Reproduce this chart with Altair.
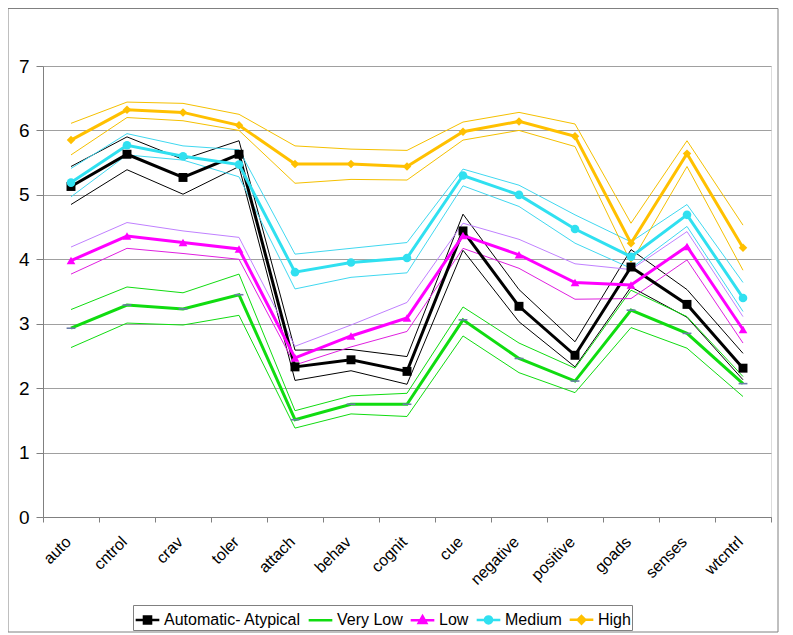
import altair as alt
import pandas as pd

cats = ["auto", "cntrol", "crav", "toler", "attach", "behav", "cognit",
        "cue", "negative", "positive", "goads", "senses", "wtcntrl"]
series_names = ["Automatic- Atypical", "Very Low", "Low", "Medium", "High"]

auto_mean = [5.13, 5.63, 5.27, 5.63, 2.33, 2.44, 2.26, 4.44, 3.27, 2.51, 3.88, 3.30, 2.31]
auto_hi = [5.44, 5.90, 5.55, 5.84, 2.59, 2.60, 2.49, 4.70, 3.53, 2.72, 4.15, 3.53, 2.54]
auto_lo = [4.85, 5.39, 5.01, 5.44, 2.12, 2.27, 2.06, 4.14, 3.03, 2.33, 3.57, 3.10, 2.13]

vlow_mean = [2.93, 3.29, 3.23, 3.45, 1.51, 1.75, 1.75, 3.06, 2.46, 2.11, 3.21, 2.85, 2.07]
vlow_hi = [3.22, 3.57, 3.48, 3.77, 1.65, 1.88, 1.92, 3.26, 2.70, 2.31, 3.52, 3.11, 2.18]
vlow_lo = [2.63, 3.01, 2.98, 3.13, 1.38, 1.60, 1.56, 2.81, 2.24, 1.93, 2.94, 2.62, 1.87]

low_mean = [3.98, 4.36, 4.26, 4.16, 2.47, 2.81, 3.09, 4.37, 4.07, 3.64, 3.60, 4.20, 2.91]
low_hi = [4.19, 4.57, 4.44, 4.34, 2.65, 2.98, 3.33, 4.56, 4.31, 3.93, 3.84, 4.43, 3.11]
low_lo = [3.77, 4.17, 4.09, 4.00, 2.36, 2.64, 2.88, 4.17, 3.86, 3.38, 3.39, 3.99, 2.70]

med_mean = [5.19, 5.77, 5.60, 5.47, 3.80, 3.95, 4.02, 5.30, 5.00, 4.47, 4.04, 4.69, 3.40]
med_hi = [5.41, 5.95, 5.76, 5.70, 4.08, 4.17, 4.26, 5.40, 5.15, 4.69, 4.27, 4.85, 3.64]
med_lo = [4.97, 5.62, 5.54, 5.28, 3.54, 3.72, 3.79, 5.14, 4.82, 4.25, 3.86, 4.51, 3.19]

high_mean = [5.85, 6.32, 6.28, 6.08, 5.48, 5.48, 5.44, 5.98, 6.14, 5.91, 4.25, 5.64, 4.18]
high_hi = [6.11, 6.44, 6.42, 6.25, 5.76, 5.71, 5.69, 6.13, 6.28, 6.10, 4.56, 5.84, 4.53]
high_lo = [5.62, 6.20, 6.15, 6.00, 5.18, 5.24, 5.23, 5.85, 6.00, 5.75, 3.95, 5.44, 3.83]

means = dict(zip(series_names, [auto_mean, vlow_mean, low_mean, med_mean, high_mean]))
his = dict(zip(series_names, [auto_hi, vlow_hi, low_hi, med_hi, high_hi]))
los = dict(zip(series_names, [auto_lo, vlow_lo, low_lo, med_lo, high_lo]))

rows = []
for s in series_names:
    for kind, arr in (("mean", means[s]), ("hi", his[s]), ("lo", los[s])):
        for c, v in zip(cats, arr):
            rows.append({"cat": c, "series": s, "kind": kind, "key": s + "|" + kind, "value": v})
df = pd.DataFrame(rows)

line_colors = ["#000000", "#10DC10", "#FF00FF", "#30E0F0", "#FFC000"]
marker_colors = ["#000000", "#6A7CA8", "#FF00FF", "#30E0F0", "#FFC000"]
band_keys = [s + "|hi" for s in series_names] + [s + "|lo" for s in series_names]
band_colors = ["#000000", "#10DC10", "#C080FF", "#40D8F0", "#F5C000",
               "#000000", "#10DC10", "#E020E0", "#40D8F0", "#F5C000"]
marker_shapes = ["square", "M-1,-0.18H1V0.18H-1Z", "triangle-up", "circle", "diamond"]
marker_sizes = [80, 72, 105, 85, 85]
legend_paths = [
    "M-1,0H1M-0.3,-0.3H0.3V0.3H-0.3Z",
    "M-1,0H1",
    "M-1,0H1M0,-0.34L0.32,0.24H-0.32Z",
    "M-1,0H1M-0.3,0A0.3,0.3,0,1,0,0.3,0A0.3,0.3,0,1,0,-0.3,0Z",
    "M-1,0H1M0,-0.32L0.32,0L0,0.32L-0.32,0Z",
]

FONT = "Liberation Sans"

x_enc = alt.X(
    "cat:N", sort=cats, title=None,
    scale=alt.Scale(type="band", paddingInner=0, paddingOuter=0),
    bandPosition=0.5,
    axis=alt.Axis(labelAngle=-45, labelAlign="right", labelBaseline="middle",
                  labelFontSize=16, labelFont=FONT, labelColor="#000000",
                  labelPadding=17, labelOffset=-3, tickBand="extent", tickSize=5,
                  tickColor="#808080", domainColor="#808080", grid=False),
)
y_enc = alt.Y(
    "value:Q", title=None,
    scale=alt.Scale(domain=[0, 7], nice=False),
    axis=alt.Axis(values=[0, 1, 2, 3, 4, 5, 6, 7], labelFontSize=19, labelFont=FONT,
                  labelColor="#000000", labelPadding=7, tickSize=7,
                  tickColor="#808080", domainColor="#808080",
                  grid=True, gridColor="#A0A0A0"),
)

base = alt.Chart(df)

bands = base.transform_filter(alt.datum.kind != "mean").mark_line(strokeWidth=1).encode(
    x=x_enc, y=y_enc,
    stroke=alt.Stroke("key:N", scale=alt.Scale(domain=band_keys, range=band_colors), legend=None),
    detail="key:N",
)

centers = base.transform_filter(alt.datum.kind == "mean").mark_line(strokeWidth=3).encode(
    x=x_enc, y=y_enc,
    color=alt.Color("series:N", scale=alt.Scale(domain=series_names, range=line_colors), legend=None),
)

markers = base.transform_filter(alt.datum.kind == "mean").mark_point(filled=True, opacity=1).encode(
    x=x_enc, y=y_enc,
    fill=alt.Fill("series:N", scale=alt.Scale(domain=series_names, range=marker_colors), legend=None),
    shape=alt.Shape("series:N", scale=alt.Scale(domain=series_names, range=marker_shapes), legend=None),
    size=alt.Size("series:N", scale=alt.Scale(domain=series_names, range=marker_sizes), legend=None),
)

leg = alt.Legend(
    title=None, orient="none", legendX=90, legendY=539, direction="horizontal", columns=5,
    strokeColor="#808080", padding=1, labelFontSize=16, labelFont=FONT, labelColor="#000000",
    labelOffset=3, columnPadding=2, symbolSize=560, symbolStrokeWidth=2.5, symbolOpacity=1,
    labelLimit=0,
)
legend_layer = base.transform_filter(alt.datum.kind == "mean").mark_point(filled=True, opacity=0).encode(
    x=x_enc, y=y_enc,
    fill=alt.Fill("series:N", scale=alt.Scale(domain=series_names, range=line_colors), legend=leg),
    stroke=alt.Stroke("series:N", scale=alt.Scale(domain=series_names, range=line_colors), legend=leg),
    shape=alt.Shape("series:N", scale=alt.Scale(domain=series_names, range=legend_paths), legend=leg),
)

frame = alt.Chart(pd.DataFrame({"d": [0]})).mark_rect(
    fill="transparent", stroke="#808080", strokeWidth=1
).encode(x=alt.value(-35), x2=alt.value(735), y=alt.value(-57.5), y2=alt.value(566))

chart = alt.layer(frame, bands, centers, markers, legend_layer).resolve_scale(
    color="independent", fill="independent", stroke="independent", shape="independent"
).properties(
    width=728, height=451,
    autosize=alt.AutoSizeParams(type="none"),
    padding={"left": 35, "top": 58, "right": 8, "bottom": 118},
).configure_view(stroke="#A0A0A0").configure(background="#FFFFFF")

chart.save("out.html", embed_options={"renderer": "svg", "actions": False})
